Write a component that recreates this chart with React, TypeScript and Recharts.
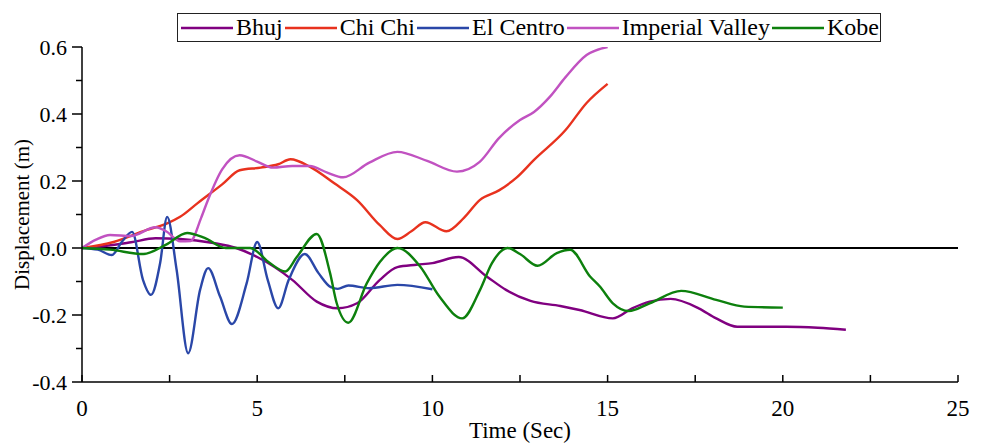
import React from 'react';
import { LineChart, Line, XAxis, YAxis, ReferenceLine, Label } from 'recharts';

const seriesNames = ['Bhuj', 'Chi Chi', 'El Centro', 'Imperial Valley', 'Kobe'];
const seriesColors = ['#800080', '#e8321e', '#2a47a8', '#c152c1', '#0d800d'];

const bhujT = [0, 0.5, 1.4, 2.1, 2.8, 3.75, 4.4, 5.0, 6.0, 6.7, 7.3, 7.85, 8.5, 9.0, 9.55, 10.0, 10.75, 11.55, 12.1, 12.8, 13.65, 14.2, 15.15, 15.7, 16.2, 16.8, 17.6, 18.1, 18.7, 20.1, 21.0, 21.8];
const bhujV = [0, 0.004, 0.017, 0.029, 0.027, 0.015, 0.0, -0.027, -0.095, -0.16, -0.18, -0.165, -0.095, -0.057, -0.05, -0.045, -0.027, -0.085, -0.125, -0.158, -0.173, -0.185, -0.21, -0.18, -0.16, -0.152, -0.18, -0.21, -0.235, -0.235, -0.238, -0.244];

const chiT = [0, 0.9, 1.85, 2.4, 2.8, 3.3, 4.0, 4.5, 5.1, 5.6, 5.95, 6.5, 7.2, 7.85, 8.5, 9.0, 9.4, 9.8, 10.4, 10.9, 11.35, 11.9, 12.4, 12.9, 13.8, 14.4, 15.0];
const chiV = [0, 0.018, 0.054, 0.072, 0.093, 0.134, 0.19, 0.232, 0.24, 0.25, 0.265, 0.243, 0.193, 0.143, 0.068, 0.027, 0.05, 0.077, 0.05, 0.09, 0.143, 0.172, 0.21, 0.263, 0.352, 0.433, 0.49];

const elcT = [0, 0.45, 0.85, 1.15, 1.43, 1.74, 1.97, 2.23, 2.43, 2.7, 3.03, 3.37, 3.6, 3.94, 4.28, 4.7, 5.0, 5.3, 5.6, 5.9, 6.36, 6.75, 7.1, 7.3, 7.6, 8.2, 9.0, 10.0];
const elcV = [0, -0.005, -0.021, 0.02, 0.048, -0.095, -0.14, -0.045, 0.093, -0.065, -0.314, -0.125, -0.06, -0.145, -0.227, -0.105, 0.018, -0.095, -0.18, -0.095, -0.018, -0.075, -0.117, -0.122, -0.112, -0.12, -0.11, -0.123];

const impT = [0, 0.4, 0.8, 1.4, 2.1, 2.4, 2.8, 3.1, 3.4, 3.6, 4.0, 4.5, 5.0, 5.45, 6.0, 6.5, 7.0, 7.45, 8.2, 9.0, 9.85, 10.7, 11.35, 11.9, 12.5, 12.9, 13.35, 13.8, 14.4, 15.0];
const impV = [0, 0.025, 0.039, 0.036, 0.062, 0.05, 0.02, 0.021, 0.09, 0.145, 0.235, 0.277, 0.258, 0.24, 0.245, 0.245, 0.225, 0.211, 0.255, 0.287, 0.26, 0.228, 0.257, 0.328, 0.382, 0.406, 0.451, 0.51, 0.576, 0.6];

const kobeT = [0, 0.8, 1.75, 2.4, 3.0, 3.5, 4.1, 4.8, 5.36, 5.8, 6.13, 6.7, 7.08, 7.27, 7.6, 8.13, 8.5, 9.0, 9.65, 10.2, 10.85, 11.36, 11.7, 12.15, 12.5, 13.0, 13.55, 13.93, 14.5, 14.78, 15.15, 15.6, 16.2, 17.1, 18.1, 18.9, 20.0];
const kobeV = [0, -0.005, -0.018, 0.01, 0.045, 0.03, 0.0, 0.0, -0.045, -0.07, -0.027, 0.042, -0.075, -0.165, -0.223, -0.105, -0.042, 0.0, -0.055, -0.145, -0.21, -0.125, -0.045, 0.0, -0.018, -0.053, -0.015, -0.005, -0.085, -0.115, -0.165, -0.188, -0.165, -0.128, -0.155, -0.175, -0.178];

const xTicks = [0, 2.5, 5, 7.5, 10, 12.5, 15, 17.5, 20, 22.5, 25];
const xLabelTicks = [0, 5, 10, 15, 20, 25];
const yTicks = [-0.4, -0.3, -0.2, -0.1, 0, 0.1, 0.2, 0.3, 0.4, 0.5, 0.6];
const yLabelTicks = [-0.4, -0.2, 0, 0.2, 0.4, 0.6];

const xTitle = 'Time (Sec)';
const yTitle = 'Displacement (m)';

const FONT = 'Liberation Serif, "Times New Roman", "DejaVu Serif", serif';

const toData = (ts: number[], vs: number[]) => ts.map((t, i) => ({ t, v: vs[i] }));
const seriesData = [
  toData(bhujT, bhujV),
  toData(chiT, chiV),
  toData(elcT, elcV),
  toData(impT, impV),
  toData(kobeT, kobeV),
];

const isIn = (arr: number[], v: number) => arr.some((a) => Math.abs(a - v) < 1e-6);

const XTick = (props: any) => {
  const { x, y, payload } = props;
  const v = payload.value;
  return (
    <g>
      <line x1={x} x2={x} y1={y} y2={y - 7} stroke="#000" strokeWidth={1.5} />
      {isIn(xLabelTicks, v) && (
        <text x={x} y={y + 34} textAnchor="middle" fontFamily={FONT} fontSize={23} fill="#000">
          {String(v)}
        </text>
      )}
    </g>
  );
};

const YTick = (props: any) => {
  const { x, y, payload } = props;
  const v = payload.value;
  const major = isIn(yLabelTicks, v);
  return (
    <g>
      <line x1={x} x2={x - (major ? 10 : 6)} y1={y} y2={y} stroke="#000" strokeWidth={1.5} />
      {major && (
        <text x={x - 15} y={y + 7.5} textAnchor="end" fontFamily={FONT} fontSize={22} fill="#000">
          {v.toFixed(1)}
        </text>
      )}
    </g>
  );
};

const XTitle = (props: any) => {
  const vb = props.viewBox || { x: 82, y: 382, width: 876, height: 62 };
  return (
    <text x={vb.x + vb.width / 2} y={vb.y + 56} textAnchor="middle" fontFamily={FONT} fontSize={23} fill="#000">
      {xTitle}
    </text>
  );
};

const YTitle = (props: any) => {
  const vb = props.viewBox || { x: 0, y: 47, width: 82, height: 335 };
  const cx = 22;
  const cy = vb.y + vb.height / 2;
  return (
    <text
      x={cx}
      y={cy}
      transform={`rotate(-90, ${cx}, ${cy})`}
      textAnchor="middle"
      dominantBaseline="central"
      fontFamily={FONT}
      fontSize={21}
      fill="#000"
    >
      {yTitle}
    </text>
  );
};

const LegendBox = () => (
  <div
    style={{
      position: 'absolute',
      left: 177,
      top: 13,
      width: 704,
      height: 29,
      border: '1px solid #222',
      background: '#fff',
      display: 'flex',
      alignItems: 'center',
      paddingLeft: 3,
      boxSizing: 'border-box',
      fontFamily: FONT,
      fontSize: 24,
      whiteSpace: 'nowrap',
      overflow: 'hidden',
    }}
  >
    {seriesNames.map((name, i) => (
      <div key={name} style={{ display: 'flex', alignItems: 'center' }}>
        <svg width={52} height={4} style={{ display: 'block' }}>
          <line x1={0} x2={52} y1={2} y2={2} stroke={seriesColors[i]} strokeWidth={2.5} />
        </svg>
        <span style={{ marginLeft: 3, marginRight: 2, lineHeight: '27px', color: '#000' }}>{name}</span>
      </div>
    ))}
  </div>
);

export default function App() {
  return (
    <div style={{ position: 'absolute', left: 0, top: 0, width: 982, height: 444, background: '#fff' }}>
      <LineChart width={982} height={444} margin={{ top: 47, right: 24, bottom: 0, left: 0 }}>
        <XAxis
          dataKey="t"
          type="number"
          domain={[0, 25]}
          ticks={xTicks}
          interval={0}
          tickSize={0}
          tickMargin={0}
          tick={<XTick />}
          axisLine={{ stroke: '#000', strokeWidth: 1.5 }}
          height={62}
          allowDataOverflow
        >
          <Label content={<XTitle />} />
        </XAxis>
        <XAxis
          xAxisId="top"
          orientation="top"
          type="number"
          domain={[0, 25]}
          height={0}
          tick={false}
          tickLine={false}
          axisLine={{ stroke: '#000', strokeWidth: 1.5 }}
        />
        <YAxis
          type="number"
          domain={[-0.4, 0.6]}
          ticks={yTicks}
          interval={0}
          tickSize={0}
          tickMargin={0}
          tick={<YTick />}
          axisLine={{ stroke: '#000', strokeWidth: 1.5 }}
          width={82}
          allowDataOverflow
        >
          <Label content={<YTitle />} />
        </YAxis>
        <YAxis
          yAxisId="right"
          orientation="right"
          type="number"
          domain={[-0.4, 0.6]}
          width={0}
          tick={false}
          tickLine={false}
          axisLine={{ stroke: '#000', strokeWidth: 1.5 }}
        />
        <ReferenceLine y={0} stroke="#000" strokeWidth={2} />
        {seriesData.map((d, i) => (
          <Line
            key={seriesNames[i]}
            data={d}
            dataKey="v"
            name={seriesNames[i]}
            type="monotone"
            stroke={seriesColors[i]}
            strokeWidth={2.4}
            dot={false}
            activeDot={false}
            isAnimationActive={false}
          />
        ))}
      </LineChart>
      <LegendBox />
    </div>
  );
}
